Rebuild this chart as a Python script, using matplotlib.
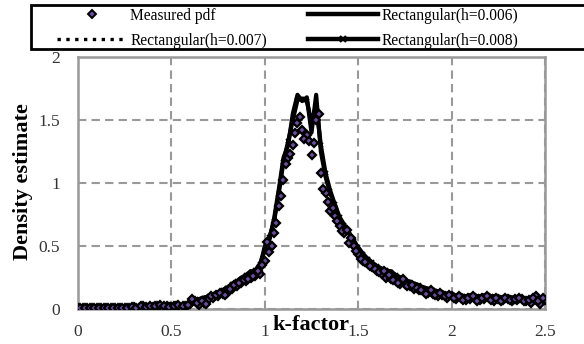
import matplotlib
matplotlib.use("Agg")
import matplotlib.pyplot as plt
from matplotlib.lines import Line2D
from matplotlib.patches import Rectangle

plt.rcParams['font.family'] = ['Liberation Serif', 'DejaVu Serif']

k = [0.0, 0.025, 0.05, 0.075, 0.1, 0.125, 0.15, 0.175, 0.2, 0.225,
     0.25, 0.275, 0.3, 0.325, 0.35, 0.375, 0.4, 0.425, 0.45, 0.475,
     0.5, 0.525, 0.55, 0.575, 0.6, 0.625, 0.65, 0.675, 0.7, 0.725,
     0.75, 0.775, 0.8, 0.825, 0.85, 0.875, 0.9, 0.925, 0.95, 0.975,
     1.0, 1.025, 1.05, 1.075, 1.1, 1.125, 1.15, 1.175, 1.2, 1.225,
     1.25, 1.275, 1.3, 1.325, 1.35, 1.375, 1.4, 1.425, 1.45, 1.475,
     1.5, 1.525, 1.55, 1.575, 1.6, 1.625, 1.65, 1.675, 1.7, 1.725,
     1.75, 1.775, 1.8, 1.825, 1.85, 1.875, 1.9, 1.925, 1.95, 1.975,
     2.0, 2.025, 2.05, 2.075, 2.1, 2.125, 2.15, 2.175, 2.2, 2.225,
     2.25, 2.275, 2.3, 2.325, 2.35, 2.375, 2.4, 2.425, 2.45, 2.475, 2.5]

k_mid = [0.0125, 0.0375, 0.0625, 0.0875, 0.1125, 0.1375, 0.1625, 0.1875, 0.2125, 0.2375,
         0.2625, 0.2875, 0.3125, 0.3375, 0.3625, 0.3875, 0.4125, 0.4375, 0.4625, 0.4875,
         0.5125, 0.5375, 0.5625, 0.5875, 0.6125, 0.6375, 0.6625, 0.6875, 0.7125, 0.7375,
         0.7625, 0.7875, 0.8125, 0.8375, 0.8625, 0.8875, 0.9125, 0.9375, 0.9625, 0.9875,
         1.0125, 1.0375, 1.0625, 1.0875, 1.1125, 1.1375, 1.1625, 1.1875, 1.2125, 1.2375,
         1.2625, 1.2875, 1.3125, 1.3375, 1.3625, 1.3875, 1.4125, 1.4375, 1.4625, 1.4875,
         1.5125, 1.5375, 1.5625, 1.5875, 1.6125, 1.6375, 1.6625, 1.6875, 1.7125, 1.7375,
         1.7625, 1.7875, 1.8125, 1.8375, 1.8625, 1.8875, 1.9125, 1.9375, 1.9625, 1.9875,
         2.0125, 2.0375, 2.0625, 2.0875, 2.1125, 2.1375, 2.1625, 2.1875, 2.2125, 2.2375,
         2.2625, 2.2875, 2.3125, 2.3375, 2.3625, 2.3875, 2.4125, 2.4375, 2.4625, 2.4875]

rect_h006 = [0.01, 0.01, 0.01, 0.01, 0.01, 0.01, 0.01, 0.01, 0.01, 0.01,
             0.015, 0.01, 0.015, 0.02, 0.015, 0.025, 0.02, 0.03, 0.035, 0.025,
             0.02, 0.03, 0.025, 0.03, 0.05, 0.08, 0.07, 0.09, 0.10, 0.12,
             0.13, 0.15, 0.17, 0.20, 0.22, 0.25, 0.27, 0.30, 0.30, 0.34,
             0.50, 0.55, 0.72, 0.95, 1.20, 1.30, 1.55, 1.70, 1.65, 1.68,
             1.40, 1.70, 1.25, 1.05, 0.92, 0.82, 0.72, 0.66, 0.60, 0.55,
             0.48, 0.42, 0.40, 0.36, 0.34, 0.32, 0.30, 0.30, 0.27, 0.25,
             0.22, 0.22, 0.20, 0.18, 0.17, 0.16, 0.15, 0.13, 0.13, 0.12,
             0.11, 0.10, 0.11, 0.10, 0.11, 0.10, 0.10, 0.11, 0.10, 0.09,
             0.10, 0.09, 0.10, 0.09, 0.08, 0.09, 0.08, 0.08, 0.09, 0.07, 0.09]

rect_h007 = [0.01, 0.01, 0.01, 0.01, 0.01, 0.01, 0.01, 0.01, 0.01, 0.01,
             0.01, 0.015, 0.015, 0.015, 0.02, 0.02, 0.025, 0.025, 0.03, 0.03,
             0.025, 0.025, 0.03, 0.035, 0.05, 0.07, 0.08, 0.09, 0.10, 0.11,
             0.13, 0.15, 0.18, 0.19, 0.22, 0.24, 0.27, 0.29, 0.31, 0.35,
             0.48, 0.56, 0.70, 0.93, 1.18, 1.32, 1.52, 1.68, 1.66, 1.66,
             1.45, 1.66, 1.28, 1.06, 0.93, 0.83, 0.73, 0.66, 0.61, 0.54,
             0.49, 0.43, 0.40, 0.37, 0.34, 0.32, 0.31, 0.29, 0.27, 0.25,
             0.23, 0.21, 0.20, 0.19, 0.17, 0.16, 0.15, 0.14, 0.13, 0.12,
             0.11, 0.11, 0.10, 0.10, 0.10, 0.10, 0.10, 0.10, 0.10, 0.10,
             0.09, 0.09, 0.09, 0.09, 0.09, 0.08, 0.08, 0.08, 0.08, 0.08, 0.08]

rect_h008 = [0.01, 0.01, 0.01, 0.01, 0.01, 0.01, 0.01, 0.01, 0.01, 0.01,
             0.01, 0.01, 0.015, 0.015, 0.02, 0.02, 0.02, 0.025, 0.03, 0.03,
             0.025, 0.025, 0.03, 0.035, 0.05, 0.07, 0.08, 0.09, 0.10, 0.115,
             0.13, 0.15, 0.17, 0.20, 0.22, 0.24, 0.27, 0.29, 0.31, 0.36,
             0.47, 0.57, 0.70, 0.92, 1.17, 1.33, 1.50, 1.66, 1.67, 1.65,
             1.48, 1.62, 1.30, 1.08, 0.94, 0.83, 0.73, 0.67, 0.61, 0.54,
             0.49, 0.44, 0.40, 0.37, 0.34, 0.32, 0.31, 0.29, 0.27, 0.25,
             0.23, 0.21, 0.20, 0.19, 0.17, 0.16, 0.15, 0.14, 0.13, 0.12,
             0.11, 0.11, 0.10, 0.10, 0.10, 0.10, 0.10, 0.10, 0.10, 0.10,
             0.09, 0.09, 0.09, 0.09, 0.09, 0.08, 0.08, 0.08, 0.08, 0.08, 0.08]

measured = [0.005, 0.01, 0.005, 0.01, 0.005, 0.01, 0.01, 0.005, 0.01, 0.01,
            0.01, 0.005, 0.015, 0.01, 0.02, 0.01, 0.015, 0.02, 0.01, 0.02,
            0.015, 0.02, 0.01, 0.02, 0.04, 0.06, 0.03, 0.05, 0.08, 0.09,
            0.10, 0.12, 0.13, 0.16, 0.18, 0.21, 0.22, 0.25, 0.26, 0.28,
            0.38, 0.45, 0.60, 0.82, 1.02, 1.20, 1.30, 1.48, 1.42, 1.38,
            1.22, 1.50, 1.08, 0.92, 0.78, 0.74, 0.66, 0.60, 0.52, 0.50,
            0.44, 0.38, 0.36, 0.33, 0.30, 0.28, 0.25, 0.24, 0.22, 0.20,
            0.20, 0.18, 0.16, 0.15, 0.14, 0.13, 0.12, 0.10, 0.11, 0.09,
            0.10, 0.08, 0.09, 0.07, 0.08, 0.09, 0.07, 0.08, 0.09, 0.06,
            0.08, 0.07, 0.08, 0.06, 0.07, 0.08, 0.06, 0.05, 0.10, 0.04, 0.07]

measured_mid = [0.01, 0.005, 0.01, 0.01, 0.005, 0.01, 0.005, 0.01, 0.01, 0.005,
                0.01, 0.015, 0.01, 0.02, 0.015, 0.02, 0.025, 0.03, 0.02, 0.015,
                0.025, 0.03, 0.02, 0.03, 0.08, 0.05, 0.06, 0.04, 0.10, 0.11,
                0.13, 0.11, 0.16, 0.19, 0.21, 0.23, 0.24, 0.26, 0.30, 0.35,
                0.53, 0.50, 0.68, 0.90, 1.15, 1.23, 1.40, 1.52, 1.35, 1.33,
                1.32, 1.55, 0.95, 0.85, 0.80, 0.70, 0.62, 0.63, 0.56, 0.46,
                0.40, 0.37, 0.34, 0.32, 0.29, 0.30, 0.27, 0.23, 0.21, 0.24,
                0.18, 0.19, 0.17, 0.15, 0.12, 0.15, 0.11, 0.13, 0.10, 0.11,
                0.09, 0.10, 0.07, 0.09, 0.10, 0.06, 0.09, 0.10, 0.07, 0.09,
                0.06, 0.09, 0.07, 0.08, 0.09, 0.06, 0.07, 0.09, 0.06, 0.09]

xticks = [0, 0.5, 1, 1.5, 2, 2.5]
xticklabels = ['0', '0.5', '1', '1.5', '2', '2.5']
yticks = [0, 0.5, 1, 1.5, 2]
yticklabels = ['0', '0.5', '1', '1.5', '2']

W, H = 584, 344
fig = plt.figure(figsize=(W / 100, H / 100), dpi=100)
ax = fig.add_axes([78 / W, 1 - 309 / H, (545 - 78) / W, (309 - 57) / H])

grid_c = '#999999'
ax.plot(k, rect_h007, color='black', lw=2.4, ls=':', zorder=3)
ax.plot(k, rect_h006, color='black', lw=3.0, zorder=3)
ax.plot(k, rect_h008, color='black', lw=3.0, marker='x', ms=3.5, mew=1.3, zorder=3)
mstyle = dict(ls='none', marker='D', ms=4.2, mfc='#6a4c9c', mec='black', mew=1.6, zorder=4)
ax.plot(k, measured, **mstyle)
ax.plot(k_mid, measured_mid, **mstyle)

ax.set_xlim(0, 2.5)
ax.set_ylim(0, 2)
ax.set_xticks(xticks)
ax.set_xticklabels(xticklabels)
ax.set_yticks(yticks)
ax.set_yticklabels(yticklabels)
ax.tick_params(length=0, labelsize=12.5, colors='#333333', pad=11)
ax.tick_params(axis='y', pad=13)
ax.grid(True, color=grid_c, ls=(0, (4, 2.5)), lw=1.5)
ax.set_axisbelow(True)
for s in ax.spines.values():
    s.set_color(grid_c)
    s.set_linewidth(1.8)

fig.text(311 / W, 1 - 325 / H, 'k-factor', ha='center', va='center',
         fontsize=16, fontweight='bold')
fig.text(23 / W, 1 - 182 / H, 'Density estimate', ha='center', va='center',
         fontsize=16, fontweight='bold', rotation=90)

# legend frame
fig.patches.append(Rectangle((31 / W, 1 - 49 / H), (600 - 31) / W, 44 / H,
                             transform=fig.transFigure, fill=True, facecolor='white',
                             edgecolor='black', lw=2, clip_on=False, zorder=5))

handles = [
    Line2D([], [], ls='none', marker='D', ms=4, mfc='#6a4c9c', mec='black', mew=1.4),
    Line2D([], [], color='black', lw=2.4, ls=':'),
    Line2D([], [], color='black', lw=3.2),
    Line2D([], [], color='black', lw=3.2, marker='x', ms=4, mew=1.6),
]
labels = ['Measured pdf', 'Rectangular(h=0.007)',
          'Rectangular(h=0.006)', 'Rectangular(h=0.008)']
leg = fig.legend(handles, labels, ncol=2, loc='upper left',
                 bbox_to_anchor=(55 / W, 1 - 6 / H),
                 fontsize=11.2, frameon=False,
                 handlelength=4.5, handletextpad=0.25, borderaxespad=0,
                 borderpad=0.1, labelspacing=0.6, columnspacing=2.6)
leg.set_zorder(6)

fig.savefig('out.png', dpi=100)
